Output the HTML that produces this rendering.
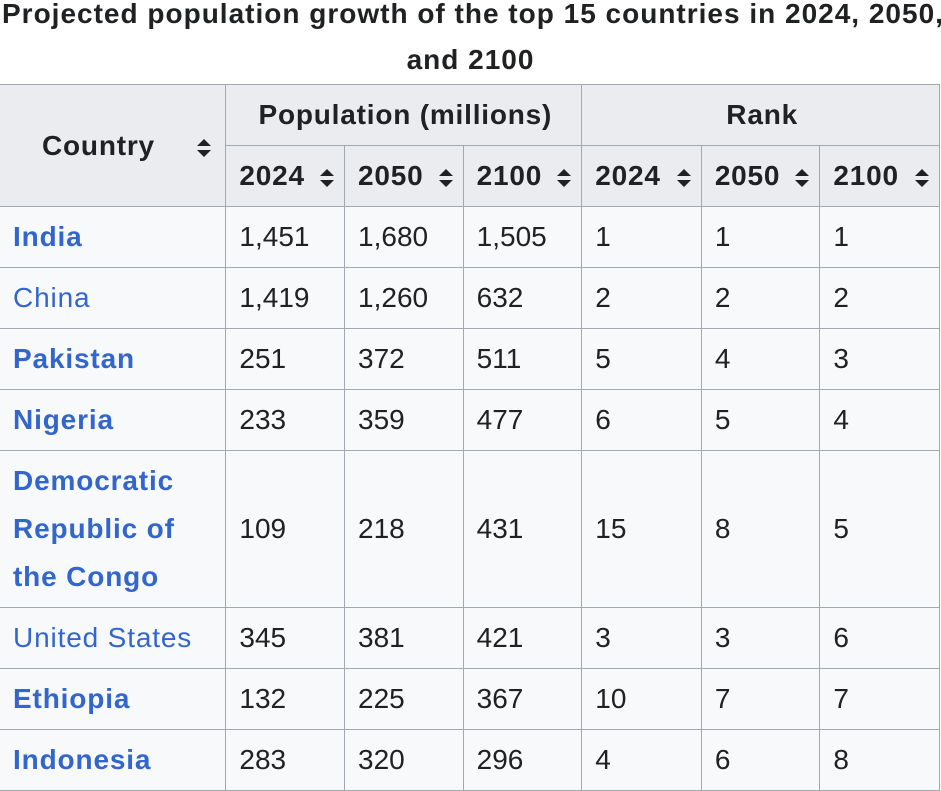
<!DOCTYPE html>
<html><head><style>
body{margin:0;width:941px;height:780px;overflow:hidden;background:#fff;font-family:"Liberation Sans",Arial,sans-serif;color:#202122;position:relative}
.cap{position:absolute;top:-9px;left:0;width:941px;font-weight:bold;font-size:28px;line-height:46px;text-align:center;white-space:nowrap;letter-spacing:1px}
.cap .l1{position:absolute;left:2px;top:0}
.cap .l2{position:absolute;left:0;width:941px;top:46px;text-align:center}
table{position:absolute;top:84px;left:-1px;border-collapse:collapse;table-layout:fixed;font-size:28px}
td,th{border:1px solid #a2a9b1;padding:0 10px 0 13px;height:60px;box-sizing:border-box;text-align:left;font-weight:normal;line-height:48px;vertical-align:middle}
th{background:#eaecf0;font-weight:bold;letter-spacing:0.8px}
td{background:#f8f9fa}
a{color:#3366cc;text-decoration:none;letter-spacing:0.85px}
a.b{font-weight:bold}
.s{float:right;margin-top:17px}
th.c{text-align:center}
</style></head><body>
<div class="cap"><div class="l1">Projected population growth of the top 15 countries in 2024, 2050,</div><div class="l2">and 2100</div></div>
<table>
<colgroup><col style="width:227px"><col style="width:119px"><col style="width:119px"><col style="width:119px"><col style="width:120px"><col style="width:119px"><col style="width:120px"></colgroup>
<tr style="height:61px"><th rowspan="2" style="padding-left:42px;padding-right:14px">Country<svg class="s" width="14" height="18" viewBox="0 0 14 18"><path d="M7 0L14 7H0Z M0 11H14L7 18Z" fill="#202122"/></svg></th><th colspan="3" class="c">Population (millions)</th><th colspan="3" class="c">Rank</th></tr>
<tr style="height:61px">
<th>2024<svg class="s" width="14" height="18" viewBox="0 0 14 18"><path d="M7 0L14 7H0Z M0 11H14L7 18Z" fill="#202122"/></svg></th>
<th>2050<svg class="s" width="14" height="18" viewBox="0 0 14 18"><path d="M7 0L14 7H0Z M0 11H14L7 18Z" fill="#202122"/></svg></th>
<th>2100<svg class="s" width="14" height="18" viewBox="0 0 14 18"><path d="M7 0L14 7H0Z M0 11H14L7 18Z" fill="#202122"/></svg></th>
<th>2024<svg class="s" width="14" height="18" viewBox="0 0 14 18"><path d="M7 0L14 7H0Z M0 11H14L7 18Z" fill="#202122"/></svg></th>
<th>2050<svg class="s" width="14" height="18" viewBox="0 0 14 18"><path d="M7 0L14 7H0Z M0 11H14L7 18Z" fill="#202122"/></svg></th>
<th>2100<svg class="s" width="14" height="18" viewBox="0 0 14 18"><path d="M7 0L14 7H0Z M0 11H14L7 18Z" fill="#202122"/></svg></th></tr>
<tr style="height:61px"><td><a class="b">India</a></td><td>1,451</td><td>1,680</td><td>1,505</td><td>1</td><td>1</td><td>1</td></tr>
<tr style="height:61px"><td><a>China</a></td><td>1,419</td><td>1,260</td><td>632</td><td>2</td><td>2</td><td>2</td></tr>
<tr style="height:61px"><td><a class="b">Pakistan</a></td><td>251</td><td>372</td><td>511</td><td>5</td><td>4</td><td>3</td></tr>
<tr style="height:61px"><td><a class="b">Nigeria</a></td><td>233</td><td>359</td><td>477</td><td>6</td><td>5</td><td>4</td></tr>
<tr style="height:157px"><td><a class="b">Democratic Republic of the Congo</a></td><td>109</td><td>218</td><td>431</td><td>15</td><td>8</td><td>5</td></tr>
<tr style="height:61px"><td><a>United States</a></td><td>345</td><td>381</td><td>421</td><td>3</td><td>3</td><td>6</td></tr>
<tr style="height:61px"><td><a class="b">Ethiopia</a></td><td>132</td><td>225</td><td>367</td><td>10</td><td>7</td><td>7</td></tr>
<tr style="height:61px"><td><a class="b">Indonesia</a></td><td>283</td><td>320</td><td>296</td><td>4</td><td>6</td><td>8</td></tr>
</table>
</body></html>
